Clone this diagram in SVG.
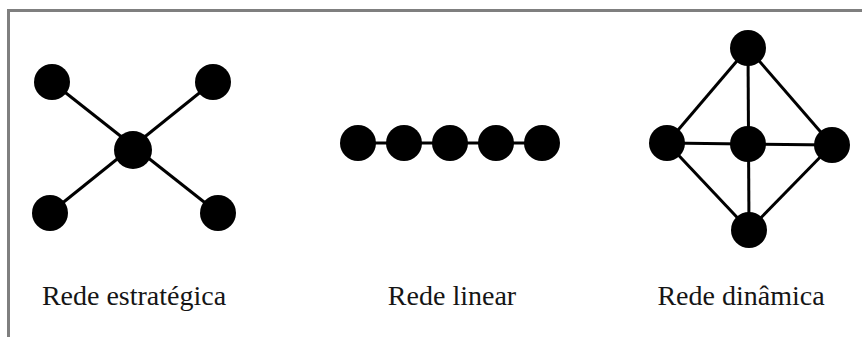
<svg xmlns="http://www.w3.org/2000/svg" width="862" height="337" viewBox="0 0 862 337">
<style>
.frame{fill:none;stroke:#7f7f7f;stroke-width:3}
.edge{stroke:#000;stroke-width:3;fill:none}
.node{fill:#000}
.lbl{font-family:"Liberation Serif","Times New Roman",serif;font-size:28px;fill:#151515;text-anchor:middle}
</style>
<rect width="862" height="337" fill="#fff"/>
<path class="frame" d="M8.5 337 V10.5 H862"/>
<g id="connectors">
<line class="edge" x1="52" y1="82" x2="218" y2="213"/>
<line class="edge" x1="213" y1="82" x2="50" y2="213"/>
<line class="edge" x1="358" y1="143" x2="542" y2="143"/>
<line class="edge" x1="748" y1="48" x2="667" y2="143"/>
<line class="edge" x1="748" y1="48" x2="832" y2="145"/>
<line class="edge" x1="748" y1="48" x2="749" y2="230"/>
<line class="edge" x1="667" y1="143" x2="832" y2="145"/>
<line class="edge" x1="667" y1="143" x2="749" y2="230"/>
<line class="edge" x1="832" y1="145" x2="749" y2="230"/>
</g>
<g id="strategic">
<circle id="s-tl" class="node" cx="52" cy="82" r="18"/>
<circle id="s-tr" class="node" cx="213" cy="82" r="18"/>
<circle id="s-c" class="node" cx="133" cy="150" r="19"/>
<circle id="s-bl" class="node" cx="50" cy="213" r="18"/>
<circle id="s-br" class="node" cx="218" cy="213" r="18"/>
<text class="lbl" x="134" y="305">Rede estratégica</text>
</g>
<g id="linear">
<circle id="l1" class="node" cx="358" cy="143" r="18"/>
<circle id="l2" class="node" cx="404" cy="143" r="18"/>
<circle id="l3" class="node" cx="450" cy="143" r="18"/>
<circle id="l4" class="node" cx="496" cy="143" r="18"/>
<circle id="l5" class="node" cx="542" cy="143" r="18"/>
<text class="lbl" x="452" y="305">Rede linear</text>
</g>
<g id="dynamic">
<circle id="d-t" class="node" cx="748" cy="48" r="18"/>
<circle id="d-l" class="node" cx="667" cy="143" r="18"/>
<circle id="d-c" class="node" cx="748" cy="144" r="18"/>
<circle id="d-r" class="node" cx="832" cy="145" r="18"/>
<circle id="d-b" class="node" cx="749" cy="230" r="18"/>
<text class="lbl" x="741" y="305">Rede dinâmica</text>
</g>
</svg>
